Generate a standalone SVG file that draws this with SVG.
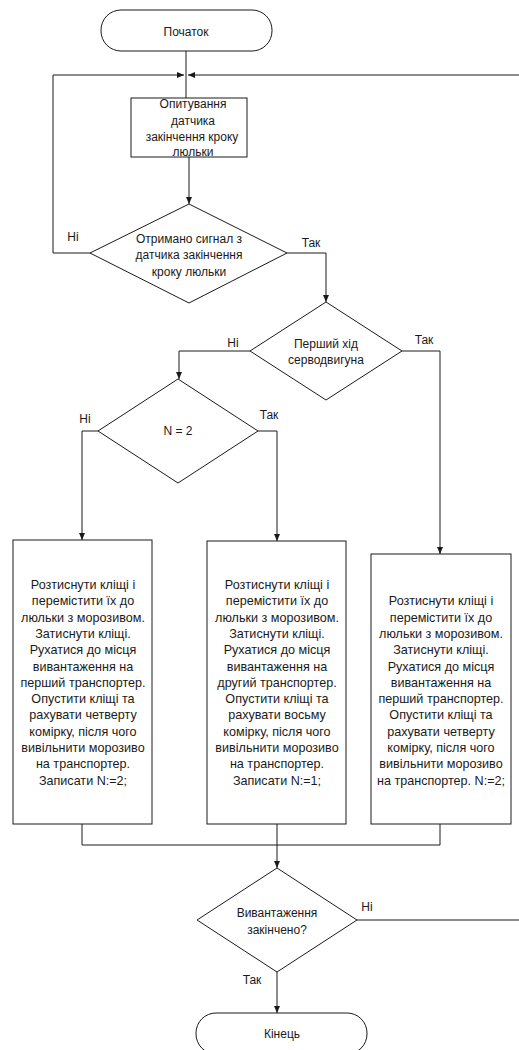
<svg xmlns="http://www.w3.org/2000/svg" width="519" height="1050" viewBox="0 0 519 1050">
<style>
  .shape { fill: #ffffff; stroke: #1a1a1a; stroke-width: 1; }
  .line { fill: none; stroke: #1a1a1a; stroke-width: 1; }
  .arrow { marker-end: url(#ah); }
  text { font-family: "Liberation Sans", Arial, sans-serif; font-size: 12px; fill: #1a1a1a; text-anchor: middle; }
  .big text { font-size: 12.6px; }
</style>
<defs>
  <marker id="ah" markerUnits="userSpaceOnUse" markerWidth="7" markerHeight="6" refX="7" refY="3" orient="auto">
    <path d="M0,0 L7,3 L0,6 z" fill="#1a1a1a"/>
  </marker>
</defs>
<rect width="519" height="1050" fill="#ffffff"/>

<g id="connectors">
  <path class="line" d="M186,51 V98"/>
  <path class="line arrow" d="M90,253 H53 V75 H184"/>
  <path class="line arrow" d="M519,75 H188"/>
  <path class="line arrow" d="M189,157 V204"/>
  <path class="line arrow" d="M287,253 H326 V302"/>
  <path class="line arrow" d="M250,351 H179 V379"/>
  <path class="line arrow" d="M402,351 H440 V554"/>
  <path class="line arrow" d="M98,431 H82 V540"/>
  <path class="line arrow" d="M258,431 H277 V541"/>
  <path class="line" d="M82,824 V845 H440 V824"/>
  <path class="line arrow" d="M277,824 V868"/>
  <path class="line" d="M357,920 H519"/>
  <path class="line arrow" d="M277,972 V1013"/>
  <text x="73" y="241">Ні</text>
  <text x="311" y="247">Так</text>
  <text x="233" y="347">Ні</text>
  <text x="424" y="344">Так</text>
  <text x="85" y="423">Ні</text>
  <text x="269" y="419">Так</text>
  <text x="367" y="911">Ні</text>
  <text x="252" y="984">Так</text>
</g>

<g id="start">
  <rect class="shape" x="101" y="10" width="171" height="41" rx="20" ry="20"/>
  <text x="186" y="36">Початок</text>
</g>

<g id="poll">
  <rect class="shape" x="131" y="98" width="116" height="59"/>
  <text x="193" y="108">Опитування</text>
  <text x="193" y="124.5">датчика</text>
  <text x="192" y="140.5">закінчення кроку</text>
  <text x="193" y="156">люльки</text>
</g>

<g id="signal">
  <polygon class="shape" points="189,204 287,253 189,303 90,253"/>
  <text x="189" y="243">Отримано сигнал з</text>
  <text x="189" y="259">датчика закінчення</text>
  <text x="189" y="275.5">кроку люльки</text>
</g>

<g id="first-move">
  <polygon class="shape" points="326,302 402,351 326,400 250,351"/>
  <text x="326" y="348">Перший хід</text>
  <text x="326" y="363.5">серводвигуна</text>
</g>

<g id="n-check">
  <polygon class="shape" points="178,379 258,431 178,483 98,431"/>
  <text x="178" y="435">N = 2</text>
</g>

<g id="action-1" class="big">
  <rect class="shape" x="13" y="540" width="139" height="284"/>
  <text x="83" y="589">Розтиснути кліщі і</text>
  <text x="83" y="605.3">перемістити їх до</text>
  <text x="83" y="621.6">люльки з морозивом.</text>
  <text x="83" y="637.9">Затиснути кліщі.</text>
  <text x="83" y="654.2">Рухатися до місця</text>
  <text x="83" y="670.5">вивантаження на</text>
  <text x="83" y="686.8">перший транспортер.</text>
  <text x="83" y="703.1">Опустити кліщі та</text>
  <text x="83" y="719.4">рахувати четверту</text>
  <text x="83" y="735.7">комірку, після чого</text>
  <text x="83" y="752">вивільнити морозиво</text>
  <text x="83" y="768.3">на транспортер.</text>
  <text x="83" y="784.6">Записати N:=2;</text>
</g>

<g id="action-2" class="big">
  <rect class="shape" x="207" y="541" width="139" height="283"/>
  <text x="277" y="589">Розтиснути кліщі і</text>
  <text x="277" y="605.3">перемістити їх до</text>
  <text x="277" y="621.6">люльки з морозивом.</text>
  <text x="277" y="637.9">Затиснути кліщі.</text>
  <text x="277" y="654.2">Рухатися до місця</text>
  <text x="277" y="670.5">вивантаження на</text>
  <text x="277" y="686.8">другий транспортер.</text>
  <text x="277" y="703.1">Опустити кліщі та</text>
  <text x="277" y="719.4">рахувати восьму</text>
  <text x="277" y="735.7">комірку, після чого</text>
  <text x="277" y="752">вивільнити морозиво</text>
  <text x="277" y="768.3">на транспортер.</text>
  <text x="277" y="784.6">Записати N:=1;</text>
</g>

<g id="action-3" class="big">
  <rect class="shape" x="371" y="554" width="140" height="270"/>
  <text x="441" y="605.3">Розтиснути кліщі і</text>
  <text x="441" y="621.6">перемістити їх до</text>
  <text x="441" y="637.9">люльки з морозивом.</text>
  <text x="441" y="654.2">Затиснути кліщі.</text>
  <text x="441" y="670.5">Рухатися до місця</text>
  <text x="441" y="686.8">вивантаження на</text>
  <text x="441" y="703.1">перший транспортер.</text>
  <text x="441" y="719.4">Опустити кліщі та</text>
  <text x="441" y="735.7">рахувати четверту</text>
  <text x="441" y="752">комірку, після чого</text>
  <text x="441" y="768.3">вивільнити морозиво</text>
  <text x="441" y="784.6">на транспортер. N:=2;</text>
</g>

<g id="unload-done">
  <polygon class="shape" points="277,868 357,920 277,972 197,920"/>
  <text x="277" y="917">Вивантаження</text>
  <text x="277" y="934">закінчено?</text>
</g>

<g id="end">
  <rect class="shape" x="196" y="1013" width="171" height="41" rx="20" ry="20"/>
  <text x="282" y="1038">Кінець</text>
</g>
</svg>
